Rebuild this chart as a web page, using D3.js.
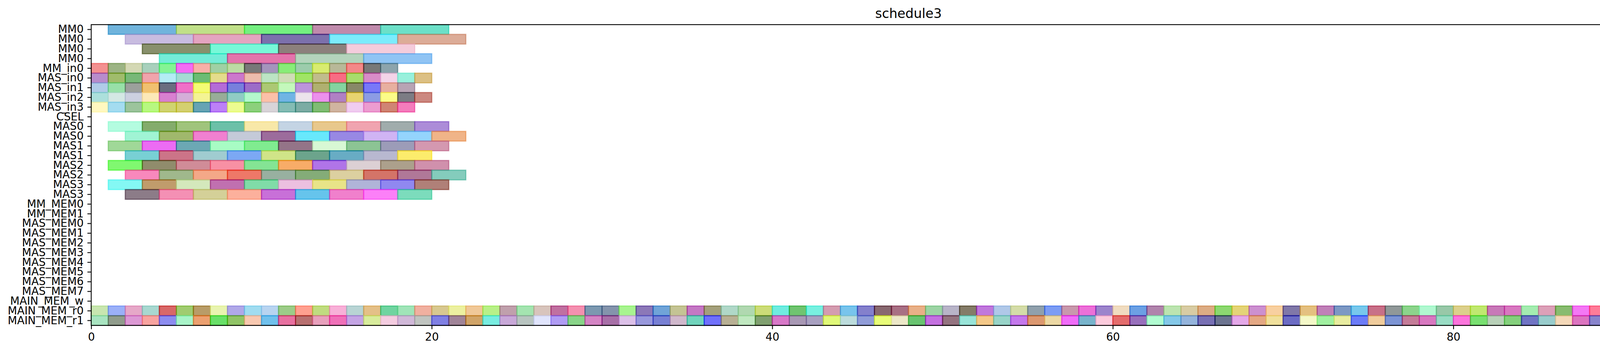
<!DOCTYPE html>
<html>
<head>
<meta charset="utf-8">
<script src="https://cdn.jsdelivr.net/npm/d3@7"></script>
<style>
  body { margin: 0; background: #ffffff; }
  svg { display: block; }
</style>
</head>
<body>
<svg id="chart" width="4439" height="900"></svg>
<script>
//row names, top to bottom
const categories = ["MM0","MM0","MM0","MM0","MM_in0","MAS_in0","MAS_in1","MAS_in2","MAS_in3","CSEL",
    "MAS0","MAS0","MAS1","MAS1","MAS2","MAS2","MAS3","MAS3","MM_MEM0","MM_MEM1",
    "MAS_MEM0","MAS_MEM1","MAS_MEM2","MAS_MEM3","MAS_MEM4","MAS_MEM5","MAS_MEM6","MAS_MEM7",
    "MAIN_MEM_w","MAIN_MEM_r0","MAIN_MEM_r1"];
const xTicks = [0, 20, 40, 60, 80];
const xMax = 96;

//MM0 tasks: 4 time units each, back to back
const mm0Rows = [0, 1, 2, 3];
const mm0Start = [1, 2, 3, 4];
const mm0Dur = 4;
const mm0Colors = [
    ["#70b4dc","#c0e088","#74f080","#c08aac","#6ce0c8"],
    ["#c8bce0","#e4a4c0","#7c70ac","#7cecfc","#dcac98"],
    ["#88906c","#78f8d8","#8c807c","#f4ccdc"],
    ["#74ecd8","#e474ac","#b4d4bc","#90c4f4"]];

//input loads: 1 time unit each from 0
const inRows = [4, 5, 6, 7, 8];
const inStart = [0, 0, 0, 0, 0];
const inDur = 1;
const inColors = [
    ["#f49090","#9cb484","#d4d8b4","#a8d0bc","#84f494","#f46cf4","#f8b0a8","#a0d0a4","#bcdca4","#787878","#a494bc","#88ec78","#9cccac","#d8ec70","#b8b898","#f48888","#787878","#8ca4ac"],
    ["#b88ccc","#a0bc6c","#78b878","#f0a4ac","#b4ecf4","#a4dcd4","#6cbc74","#e4dc8c","#cc78cc","#ecbcac","#bce4c4","#d0dcb8","#a0e464","#c0bc8c","#f86c84","#a8dc6c","#d88cc8","#f4d4e8","#98f0dc","#dcc084"],
    ["#b0cce8","#98e0a8","#9ca09c","#f0c070","#6a6e80","#f070c8","#f4fc74","#b46cd8","#7880dc","#9c6cc8","#acc874","#c4f8bc","#bc94dc","#b0b070","#84d4a0","#888868","#7878f8","#e8b0a0","#b8a4b4"],
    ["#ace0dc","#d4e8e4","#ccd0e0","#fce8b8","#d880d0","#d4aed8","#f4f494","#98ac98","#90ccc4","#b4f8cc","#fcc0a8","#70b4e4","#ece4ec","#ec90ec","#b080c4","#e8d470","#8c9ce4","#fcfc88","#7c7c84","#cc8880"],
    ["#fff8c0","#a4dcf0","#9cc49c","#b8f880","#d0d470","#d4d070","#64a4b4","#bc80f8","#ecfc90","#8cd07c","#d8d4d8","#84bcb4","#7caca4","#80bc74","#d0b4a0","#f0ccf0","#ec9cd0","#d08474","#f47cbc"]];

//MAS tasks: 2 time units each
const masRows = [10, 11, 12, 13, 14, 15, 16, 17];
const masStart = [1, 2, 1, 2, 1, 2, 1, 2];
const masDur = 2;
const masColors = [
    ["#b4fce0","#84ac6c","#a0c47c","#6cc0a8","#f8e8a8","#c4d4e4","#e8c88c","#f0a4b0","#a0acac","#ac8cd8"],
    ["#a0f4d4","#a0b86c","#f080d0","#c4cad8","#9c6c9c","#68e8fc","#9888e4","#d0b4f4","#94d4fc","#f0b488"],
    ["#a0d898","#ec6cf4","#6ca8b4","#a8fcc4","#80ec90","#947488","#d8f8d4","#8cc494","#9c9cb8","#d498b0"],
    ["#78d0d4","#cc7488","#a0ccd0","#7ca8f4","#d0e488","#6ca48c","#68acc4","#b8b8d0","#fcec6c"],
    ["#80f870","#908c6c","#d08c98","#f890a4","#84e494","#f8ac68","#b074e8","#dcd0d4","#aca08c","#d090ac"],
    ["#f888bc","#a0b88c","#f4a888","#ee7868","#98b0a0","#84ac78","#dcd0a0","#d47468","#b07898","#84ccbc"],
    ["#84f8f4","#c09c6c","#d4e8bc","#c070b0","#80dca8","#ecc0e0","#e8e488","#b0b4d8","#9088f0","#b08078"],
    ["#8c7c88","#f490b4","#d4d098","#fcb09c","#c870d8","#64c4ec","#f080cc","#fc80f8","#7cdcbc"]];

//main memory reads: 1 time unit each from 0
const mainRows = [29, 30];
const mainStart = [0, 0];
const mainDur = 1;
const mainColors = [
    ["#c8e6b0","#9bb0f8","#e6a8c8","#a8d8d0","#d86868","#a0cc70","#b89c68","#e8f4b0","#b0a8e8","#a0dcf0","#b8d4f0","#9ccc88","#ffa090","#c0dc80","#f8b0d8","#b8d4d4","#e4c088","#70d4a0","#a0e4b8","#f0b0a0","#d8c890","#ecf0a0","#f0c898","#b8f088",
     "#c0a0ac","#a4e4b0","#d8c4bc","#c070a0","#f490b0","#7c98b0","#8494ac","#a8f490","#8c78b8","#70a4d8","#c4c494","#c478c4","#a4a07c","#b0d8c8","#b0d8b0","#ccdc78","#70ece0","#70c470","#78f0e0","#d49cb0","#78c4ec","#8480cc","#886870","#a87084",
     "#e8b088","#9cd4a4","#b8b4c8","#847c68","#c078dc","#b0c8e8","#d4dca8","#90a0ac","#7c9cf4","#c898ac","#ec70d8","#9c84cc","#f0dcc0","#6ca0e4","#b084ac","#bce4b0","#d8cca4","#dcac84","#8cd870","#e4d478","#cc90d0","#f8d0a0","#8078a8","#e4c080",
     "#c080b8","#7c98c4","#78c8ec","#c87088","#909898","#8cd48c","#b0f8d0","#98c8a8","#dcd08c","#c0e870","#c878b8","#d878c0","#a4ecb0","#dca0b8","#88bc70","#f478f4","#ff7c98","#7c7098","#a49c7c","#acbc8c","#b87070","#d878cc","#70f070","#c8d0e0"],
    ["#a8e4c0","#909c8c","#dc98d4","#f8a4a0","#8c8cf0","#a8f4c8","#eca070","#68e068","#90c460","#f8c8b0","#70c0ec","#e870a0","#b87070","#e8a0bc","#f070b8","#c4a4e4","#d8ec9c","#f4cce0","#d0b8d8","#c0c4c0","#8080e4","#a08498","#d0a468","#78ece0",
     "#c8a8d8","#b8c4c0","#e0e4fc","#b09cf4","#88d488","#d484c4","#a870a8","#dcc0e8","#9898dc","#7880d4","#d0b8cc","#70d4bc","#7070fc","#b8b094","#c0e8c0","#80a070","#d878c8","#a898b4","#a8a0c0","#e0f878","#bcdcdc","#909cd8","#e8fc78","#ece8c8",
     "#68c470","#c470e0","#947480","#98e4d8","#f4c888","#98d4c8","#c478ec","#dc9870","#ecd8a4","#f06cf8","#78b4cc","#fccadc","#e46c6c","#9870bc","#b0fcd0","#84c8e8","#94b4dc","#7870b4","#6c7490","#e4a8e8","#e4a884","#f0e09c","#6c6cc4","#f4f8c8",
     "#a0f0a0","#e8eca0","#6c7cf8","#f0cc9c","#7c94d4","#c47c98","#d878c0","#98dcc4","#fc74dc","#78e070","#b8d0b8","#84d07c","#7074c4","#98cccc","#f4d8b8","#dc74c0","#8884cc","#e47070","#7c9470","#9cac70","#e0bc70","#e884e4","#acc48c","#68ccf8"]];

//bar transparency, colours above are as seen over white
const alpha = 0.6;

//turn every group into a flat list of tasks
let tasks = [];
function addGroup(rows, starts, dur, colors){
    rows.forEach(function(row, r){
        colors[r].forEach(function(c, i){
            tasks.push({row: row, start: starts[r] + i * dur, dur: dur, color: c});
        });
    });
}
addGroup(mm0Rows, mm0Start, mm0Dur, mm0Colors);
addGroup(inRows, inStart, inDur, inColors);
addGroup(masRows, masStart, masDur, masColors);
addGroup(mainRows, mainStart, mainDur, mainColors);

//undo the white blend so fill and edge can both be drawn with alpha
function baseColor(hex){
    let c = d3.rgb(hex);
    let f = function(v){ return Math.max(0, Math.min(255, (v - 255 * (1 - alpha)) / alpha)); };
    return d3.rgb(f(c.r), f(c.g), f(c.b)).formatHex();
}

const width = 4439;
const height = 900;
const margin = {top: 63, right: 21, bottom: 68, left: 233.5};
const fontSize = 27.8;

let svg = d3.select("#chart");

let x = d3.scaleLinear()
    .domain([0, xMax])
    .range([margin.left, width - margin.right]);

let y = d3.scaleBand()
    .domain(d3.range(categories.length))
    .range([margin.top, height - margin.bottom])
    .padding(0);

//bars
svg.append("g")
    .selectAll("rect")
    .data(tasks)
    .enter()
    .append("rect")
    .attr("x", function(d){ return x(d.start); })
    .attr("y", function(d){ return y(d.row); })
    .attr("width", function(d){ return x(d.start + d.dur) - x(d.start); })
    .attr("height", y.bandwidth())
    .style("fill", function(d){ return baseColor(d.color); })
    .style("fill-opacity", alpha)
    .style("stroke", function(d){ return baseColor(d.color); })
    .style("stroke-opacity", alpha)
    .style("stroke-width", 2.8);

//y axis
let yAxis = svg.append("g")
    .attr("transform", "translate(" + margin.left + ",0)")
    .call(d3.axisLeft(y)
        .tickFormat(function(i){ return categories[i]; })
        .tickSize(9.7)
        .tickPadding(9.7)
        .tickSizeOuter(0));

//x axis
let xAxis = svg.append("g")
    .attr("transform", "translate(0," + (height - margin.bottom) + ")")
    .call(d3.axisBottom(x)
        .tickValues(xTicks)
        .tickFormat(d3.format("d"))
        .tickSize(9.7)
        .tickPadding(9.7)
        .tickSizeOuter(0));

[yAxis, xAxis].forEach(function(a){
    a.select(".domain").remove();
    a.selectAll(".tick line")
        .style("stroke", "#000")
        .style("stroke-width", 2.2);
    a.selectAll(".tick text")
        .style("font-family", "'DejaVu Sans', sans-serif")
        .style("font-size", fontSize + "px")
        .style("fill", "#000");
});

//spines on all four sides
svg.append("rect")
    .attr("x", margin.left)
    .attr("y", margin.top)
    .attr("width", width - margin.right - margin.left)
    .attr("height", height - margin.bottom - margin.top)
    .style("fill", "none")
    .style("stroke", "#000")
    .style("stroke-width", 2.2);

//title
svg.append("text")
    .attr("x", (margin.left + width - margin.right) / 2)
    .attr("y", 46)
    .attr("text-anchor", "middle")
    .style("font-family", "'DejaVu Sans', sans-serif")
    .style("font-size", "33.3px")
    .style("fill", "#000")
    .text("schedule3");
</script>
</body>
</html>
